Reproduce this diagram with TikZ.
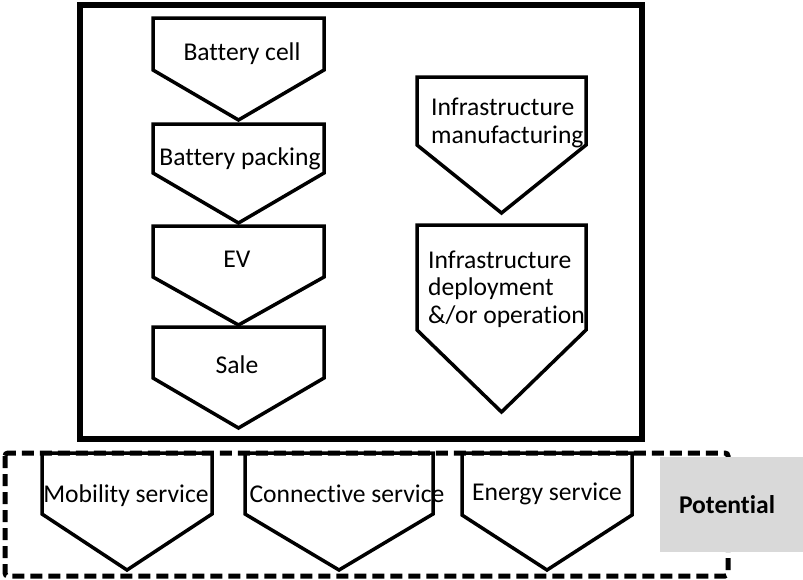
\documentclass[tikz,border=0pt]{standalone}
\usepackage{fontspec}
\setmainfont{Carlito}[RawFeature={-liga}]
\definecolor{potgray}{HTML}{D9D9D9}
\tikzset{
  chev/.style={line width=3.5pt, line join=miter},
  lbl/.style={inner sep=0pt, anchor=base, font=\fontsize{25.6}{28}\selectfont},
  mlbl/.style={inner sep=0pt, anchor=base west, align=left, font=\fontsize{25.6}{27.5}\selectfont}
}
\begin{document}
\begin{tikzpicture}[x=1pt, y=-1pt]
  \useasboundingbox (0,0) rectangle (803,579);

  % value chain frame
  \draw[line width=5.5pt] (80,5) rectangle (642,439);

  % left column
  \draw[chev] (153,18) -- (324,18) -- (324,70) -- (238.5,120) -- (153,70) -- cycle;
  \draw[chev] (153,124) -- (324,124) -- (324,173) -- (238.5,223) -- (153,173) -- cycle;
  \draw[chev] (153,226) -- (324,226) -- (324,277) -- (238.5,325) -- (153,277) -- cycle;
  \draw[chev] (153,327) -- (324,327) -- (324,378) -- (238.5,428) -- (153,378) -- cycle;

  \node[lbl] (cell) at (242,60) {Battery cell};
  \node[lbl] (pack) at (240,165) {Battery packing};
  \node[lbl] (ev) at (237,267) {EV};
  \node[lbl] (sale) at (237,373) {Sale};

  % right column
  \draw[chev] (417,77) -- (586,77) -- (586,145) -- (501.5,213) -- (417,145) -- cycle;
  \draw[chev] (417,225) -- (586,225) -- (586,330) -- (501.5,412) -- (417,330) -- cycle;

  % base of a multi-line label = baseline of its last line
  \node[mlbl] (infman) at (431,143) {Infrastructure\\manufacturing};
  \node[mlbl] (infdep) at (428,323) {Infrastructure\\deployment\\\&/or operation};

  % potential services
  \draw[line width=5pt, dash pattern=on 12pt off 6pt, rounded corners=3pt]
    (5,453) rectangle (728,576);
  \fill[potgray] (660,457) rectangle (803,552);

  \draw[chev] (42,453) -- (212,453) -- (212,514) -- (127,570) -- (42,514) -- cycle;
  \draw[chev] (245,453) -- (433,453) -- (433,514) -- (339,570) -- (245,514) -- cycle;
  \draw[chev] (462,453) -- (632,453) -- (632,515) -- (547,570) -- (462,515) -- cycle;

  \node[lbl] (mob) at (126,502) {Mobility service};
  \node[lbl] (con) at (347,502) {Connective service};
  \node[lbl] (ene) at (547,500) {Energy service};
  \node[lbl, font=\fontsize{25.6}{28}\selectfont\bfseries] (pot) at (727,513) {Potential};
\end{tikzpicture}
\end{document}
